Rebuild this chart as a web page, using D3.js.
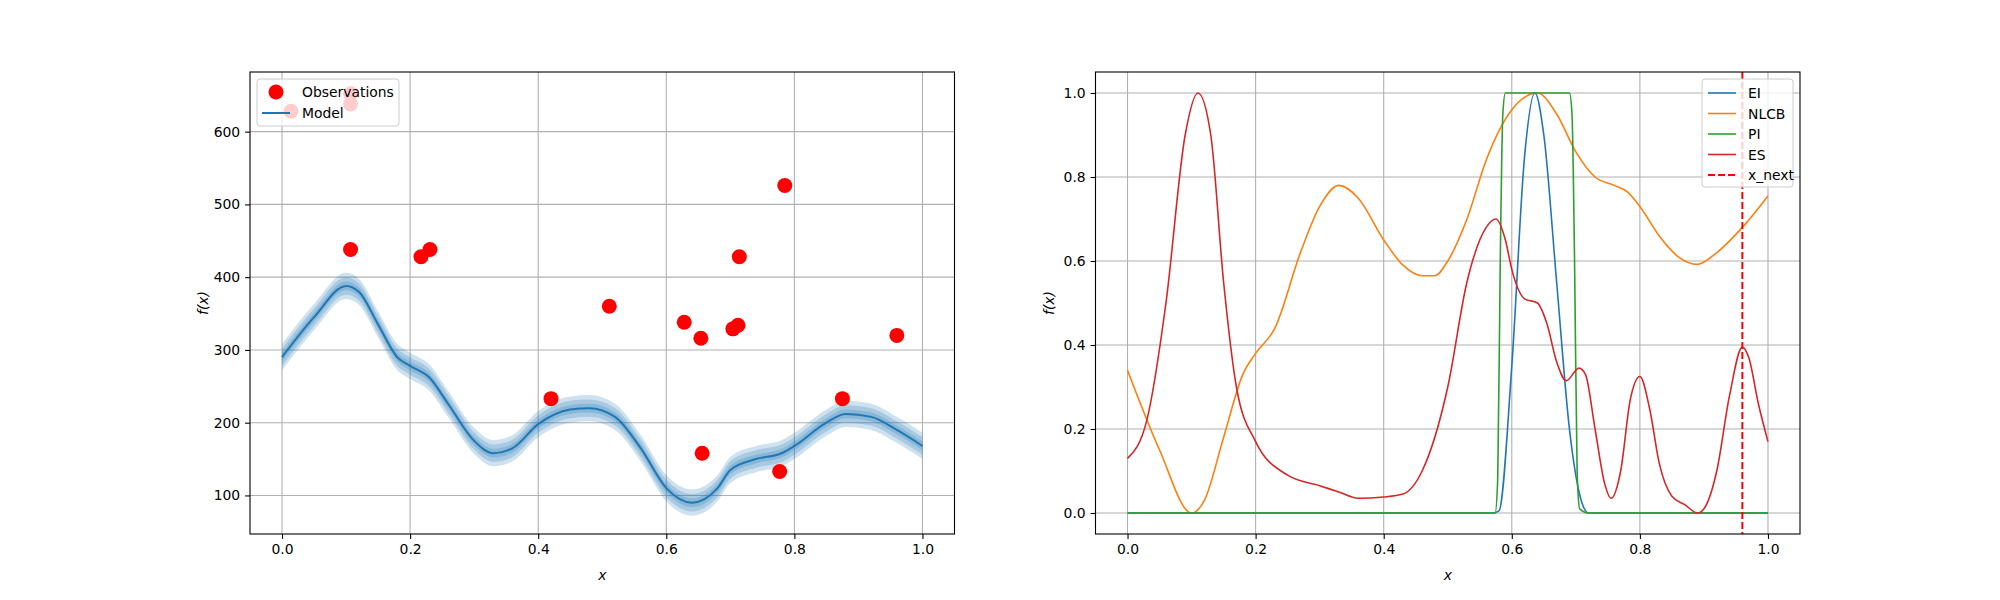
<!DOCTYPE html>
<html><head><meta charset="utf-8">
<script src="https://cdn.jsdelivr.net/npm/d3@7"></script>
<style>body{margin:0;background:#fff}svg{display:block;font-family:"DejaVu Sans",sans-serif}</style>
</head><body><svg id="c" width="2000" height="600"></svg>
<script>
// observations (left panel)
var obsX = [0.014, 0.107, 0.107, 0.107, 0.217, 0.231, 0.42, 0.511, 0.628, 0.654, 0.656, 0.704, 0.712, 0.714, 0.785, 0.777, 0.875, 0.96];
var obsY = [628, 638, 652, 438, 428, 438, 233, 360, 338, 316, 158, 329, 334, 428, 526, 133, 233, 320];
// model mean
var modelX = [0, 0.05, 0.1, 0.12, 0.15, 0.18, 0.2, 0.23, 0.26, 0.3, 0.33, 0.36, 0.4, 0.45, 0.48, 0.52, 0.56, 0.6, 0.64, 0.68, 0.7, 0.74, 0.78, 0.8, 0.85, 0.88, 0.92, 0.96, 1.0];
var modelY = [290, 345, 388, 380, 335, 290, 278, 262, 225, 175, 158, 165, 198, 218, 220, 208, 165, 110, 90, 110, 135, 150, 158, 168, 200, 212, 208, 190, 168];
var bandWidths = [6, 12, 18];
// acquisition functions (right panel)
var eiX = [0, 0.57, 0.58, 0.6, 0.62, 0.636, 0.65, 0.67, 0.69, 0.705, 0.72, 1.0];
var eiY = [0, 0, 0.005, 0.35, 0.85, 1, 0.9, 0.55, 0.2, 0.05, 0, 0];
var piX = [0, 0.574, 0.578, 0.582, 0.586, 0.59, 0.69, 0.694, 0.698, 0.702, 0.706, 0.72, 1.0];
var piY = [0, 0, 0.08, 0.6, 0.95, 1, 1, 0.95, 0.6, 0.1, 0.01, 0, 0];
var nlcbX = [0, 0.05, 0.1, 0.12, 0.15, 0.18, 0.2, 0.23, 0.27, 0.3, 0.33, 0.36, 0.4, 0.43, 0.46, 0.48, 0.5, 0.53, 0.56, 0.6, 0.64, 0.67, 0.7, 0.73, 0.76, 0.78, 0.8, 0.83, 0.86, 0.89, 0.92, 0.96, 1.0];
var nlcbY = [0.34, 0.15, 0.0, 0.03, 0.18, 0.33, 0.38, 0.44, 0.62, 0.73, 0.78, 0.75, 0.65, 0.59, 0.565, 0.565, 0.6, 0.7, 0.84, 0.96, 1.0, 0.95, 0.86, 0.8, 0.78, 0.765, 0.73, 0.66, 0.61, 0.592, 0.62, 0.68, 0.755];
var esX = [0, 0.03, 0.06, 0.09, 0.11, 0.13, 0.15, 0.17, 0.2, 0.25, 0.3, 0.33, 0.36, 0.4, 0.43, 0.46, 0.5, 0.53, 0.56, 0.575, 0.59, 0.6, 0.62, 0.64, 0.655, 0.67, 0.685, 0.705, 0.715, 0.73, 0.745, 0.755, 0.77, 0.785, 0.8, 0.815, 0.83, 0.85, 0.87, 0.89, 0.9, 0.92, 0.94, 0.96, 0.97, 0.985, 1.0];
var esY = [0.13, 0.22, 0.5, 0.9, 1.0, 0.9, 0.55, 0.3, 0.17, 0.09, 0.065, 0.05, 0.035, 0.038, 0.045, 0.1, 0.3, 0.55, 0.68, 0.7, 0.65, 0.58, 0.51, 0.5, 0.45, 0.36, 0.315, 0.345, 0.33, 0.2, 0.07, 0.035, 0.1, 0.27, 0.325, 0.25, 0.12, 0.04, 0.02, 0.0, 0.01, 0.1, 0.28, 0.395, 0.37, 0.26, 0.17];
var xNext = 0.96;
var xTicks = [0, 0.2, 0.4, 0.6, 0.8, 1.0];
var leftYTicks = [100, 200, 300, 400, 500, 600];
var rightYTicks = [0, 0.2, 0.4, 0.6, 0.8, 1.0];

var svg = d3.select('#c');
var T = 72, B = 534, AW = 704.5;
var zip = function (a, b) { return a.map(function (v, i) { return [v, b[i]]; }); };

function frame(left, yDomain, yTicks, yFmt) {
  var x = d3.scaleLinear().domain([-0.05, 1.05]).range([left, left + AW]);
  var y = d3.scaleLinear().domain(yDomain).range([B, T]);
  var g = svg.append('g');
  g.append('g').selectAll('line').data(xTicks).join('line')
    .attr('x1', x).attr('x2', x).attr('y1', T).attr('y2', B).attr('stroke', '#b0b0b0').attr('stroke-width', 1.1);
  g.append('g').selectAll('line').data(yTicks).join('line')
    .attr('y1', y).attr('y2', y).attr('x1', left).attr('x2', left + AW).attr('stroke', '#b0b0b0').attr('stroke-width', 1.1);
  var ax = g.append('g').attr('transform', 'translate(0,' + B + ')')
    .call(d3.axisBottom(x).tickValues(xTicks).tickFormat(d3.format('.1f')).tickSizeOuter(0).tickSize(4.9).tickPadding(4.9));
  var ay = g.append('g').attr('transform', 'translate(' + left + ',0)')
    .call(d3.axisLeft(y).tickValues(yTicks).tickFormat(yFmt).tickSizeOuter(0).tickSize(4.9).tickPadding(4.9));
  [ax, ay].forEach(function (a) {
    a.select('.domain').remove();
    a.selectAll('text').attr('font-size', 13.9).attr('fill', '#000').attr('font-family', 'DejaVu Sans');
    a.selectAll('line').attr('stroke', '#000').attr('stroke-width', 1.1);
  });
  svg.append('text').attr('x', left + AW / 2).attr('y', B + 46).attr('text-anchor', 'middle')
    .attr('font-size', 13.9).attr('font-style', 'italic').text('x');
  svg.append('text').attr('transform', 'translate(' + (left - 42) + ',' + ((T + B) / 2) + ') rotate(-90)')
    .attr('text-anchor', 'middle').attr('font-size', 13.9).attr('font-style', 'italic').text('f(x)');
  var clipId = 'clip' + left;
  svg.append('clipPath').attr('id', clipId).append('rect').attr('x', left).attr('y', T).attr('width', AW).attr('height', B - T);
  var plot = svg.append('g').attr('clip-path', 'url(#' + clipId + ')');
  return { x: x, y: y, plot: plot, left: left };
}
function border(left) {
  svg.append('rect').attr('x', left).attr('y', T).attr('width', AW).attr('height', B - T)
    .attr('fill', 'none').attr('stroke', '#000').attr('stroke-width', 1.1);
}

// ---- left panel
var L = frame(250, [47, 682], leftYTicks, d3.format('d'));
var modelPts = zip(modelX, modelY);
bandWidths.slice().reverse().forEach(function (w) {
  L.plot.append('path').datum(modelPts)
    .attr('d', d3.area().curve(d3.curveMonotoneX).x(function (d) { return L.x(d[0]); })
      .y0(function (d) { return L.y(d[1] - w); }).y1(function (d) { return L.y(d[1] + w); }))
    .attr('fill', '#1f77b4').attr('fill-opacity', 0.22);
});
L.plot.append('path').datum(modelPts)
  .attr('d', d3.line().curve(d3.curveMonotoneX).x(function (d) { return L.x(d[0]); }).y(function (d) { return L.y(d[1]); }))
  .attr('fill', 'none').attr('stroke', '#1f77b4').attr('stroke-width', 2);
L.plot.append('g').selectAll('circle').data(zip(obsX, obsY)).join('circle')
  .attr('cx', function (d) { return L.x(d[0]); }).attr('cy', function (d) { return L.y(d[1]); })
  .attr('r', 7.5).attr('fill', 'red');
border(250);
(function () {
  var g = svg.append('g').attr('transform', 'translate(257,79)');
  g.append('rect').attr('width', 142).attr('height', 47).attr('rx', 3).attr('fill', '#fff').attr('fill-opacity', 0.8).attr('stroke', '#ccc');
  g.append('circle').attr('cx', 19).attr('cy', 13).attr('r', 7.5).attr('fill', 'red');
  g.append('line').attr('x1', 5).attr('x2', 33).attr('y1', 34).attr('y2', 34).attr('stroke', '#1f77b4').attr('stroke-width', 2);
  g.append('text').attr('x', 45).attr('y', 18).attr('font-size', 13.9).text('Observations');
  g.append('text').attr('x', 45).attr('y', 39).attr('font-size', 13.9).text('Model');
})();

// ---- right panel
var R = frame(1095.5, [-0.05, 1.05], rightYTicks, d3.format('.1f'));
var series = [
  { name: 'EI', c: '#1f77b4', x: eiX, y: eiY },
  { name: 'NLCB', c: '#ff7f0e', x: nlcbX, y: nlcbY },
  { name: 'PI', c: '#2ca02c', x: piX, y: piY },
  { name: 'ES', c: '#d62728', x: esX, y: esY }
];
var line = d3.line().curve(d3.curveMonotoneX).x(function (d) { return R.x(d[0]); }).y(function (d) { return R.y(d[1]); });
[series[1], series[0], series[2], series[3]].forEach(function (s) {
  R.plot.append('path').datum(zip(s.x, s.y)).attr('d', line)
    .attr('fill', 'none').attr('stroke', s.c).attr('stroke-width', 1.6);
});
R.plot.append('line').attr('x1', R.x(xNext)).attr('x2', R.x(xNext)).attr('y1', T).attr('y2', B)
  .attr('stroke', 'red').attr('stroke-width', 2).attr('stroke-dasharray', '7,3');
border(1095.5);
(function () {
  var g = svg.append('g').attr('transform', 'translate(1702,79)');
  g.append('rect').attr('width', 91).attr('height', 108).attr('rx', 3).attr('fill', '#fff').attr('fill-opacity', 0.8).attr('stroke', '#ccc');
  var items = series.map(function (s) { return { name: s.name, c: s.c, dash: null }; })
    .concat([{ name: 'x_next', c: 'red', dash: '7,3' }]);
  items.forEach(function (it, i) {
    var yy = 14 + i * 20.5;
    g.append('line').attr('x1', 6).attr('x2', 34).attr('y1', yy).attr('y2', yy).attr('stroke', it.c)
      .attr('stroke-width', it.dash ? 2 : 1.6).attr('stroke-dasharray', it.dash);
    g.append('text').attr('x', 46).attr('y', yy + 5).attr('font-size', 13.9).text(it.name);
  });
})();
</script></body></html>
